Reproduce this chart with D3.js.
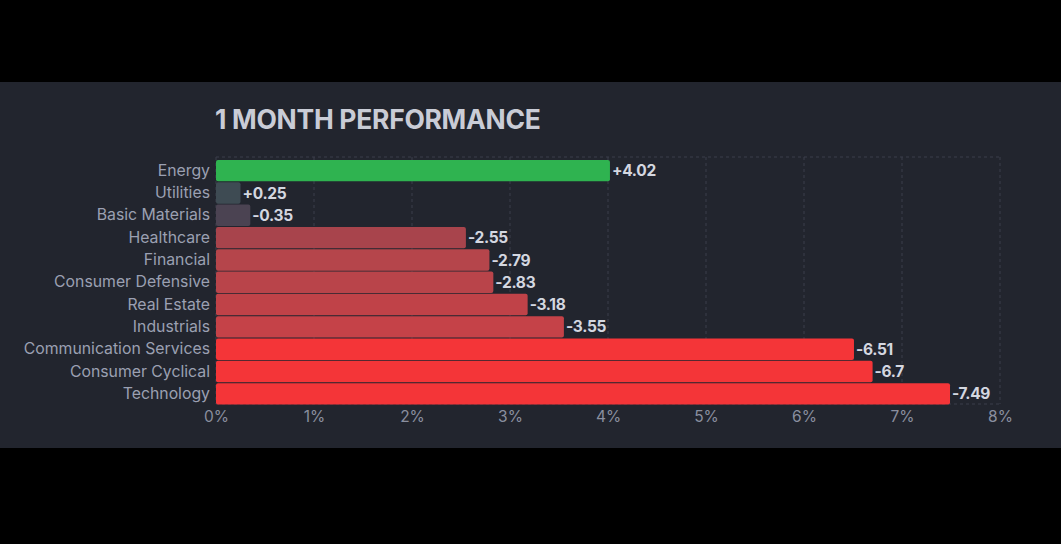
<!DOCTYPE html>
<html><head><meta charset="utf-8">
<script src="https://cdn.jsdelivr.net/npm/d3@7"></script>
<style>
html,body{margin:0;padding:0;background:#000;}
svg{display:block;}
</style></head><body>
<svg id="c" width="1061" height="544"></svg>
<script>
const categories = ["Energy","Utilities","Basic Materials","Healthcare","Financial","Consumer Defensive","Real Estate","Industrials","Communication Services","Consumer Cyclical","Technology"];
const values = [4.02, 0.25, -0.35, -2.55, -2.79, -2.83, -3.18, -3.55, -6.51, -6.7, -7.49];
const barColors = ["#2fb350","#3e4b53","#4b4352","#a8444c","#b5454b","#b9444a","#c04248","#c54248","#f43538","#f43538","#f43538"];
const tickValues = [0,1,2,3,4,5,6,7,8];
const title = "1 MONTH PERFORMANCE";

const svg = d3.select("#c");
svg.append("rect").attr("x",0).attr("y",82).attr("width",1061).attr("height",366).attr("fill","#22252e");

const x = d3.scaleLinear().domain([0,8]).range([216,1000]);
const y = d3.scaleBand().domain(categories).range([159.5,405]).paddingInner(0.04).paddingOuter(0.02);

const font = "Inter, 'Noto Sans', sans-serif";

// grid
const g = svg.append("g");
g.selectAll("line.v").data(tickValues).join("line")
  .attr("x1",d=>x(d)).attr("x2",d=>x(d)).attr("y1",157).attr("y2",404)
  .attr("stroke","#3a3e4a").attr("stroke-width",1).attr("stroke-dasharray","3,3");
g.append("line").attr("x1",216).attr("x2",1000).attr("y1",157).attr("y2",157)
  .attr("stroke","#3a3e4a").attr("stroke-dasharray","3,3");
g.append("line").attr("x1",216).attr("x2",1000).attr("y1",404).attr("y2",404)
  .attr("stroke","#3a3e4a").attr("stroke-dasharray","3,3");

// bars
const data = categories.map((c,i)=>({c, v:values[i], col:barColors[i]}));
svg.selectAll("rect.bar").data(data).join("rect")
  .attr("x",x(0)).attr("y",d=>y(d.c)).attr("width",d=>x(Math.abs(d.v))-x(0))
  .attr("height",y.bandwidth()).attr("rx",2).attr("fill",d=>d.col);

// value labels
svg.selectAll("text.val").data(data).join("text")
  .attr("x",d=>x(Math.abs(d.v))+2).attr("y",d=>y(d.c)+y.bandwidth()/2)
  .attr("dy","0.36em").attr("fill","#d4d7e0").attr("font-family",font)
  .attr("font-weight","700").attr("font-size","15.5px").attr("letter-spacing","-0.3px")
  .text(d=>(d.v>0?"+":"")+d.v);

// category labels
const yAxis = d3.axisLeft(y).tickSize(0).tickPadding(6);
const ya = svg.append("g").attr("transform","translate(216,0)").call(yAxis);
ya.select(".domain").remove();
ya.selectAll("text").attr("fill","#9ba0b2").attr("font-family",font).attr("font-size","15.8px");

// x axis
const xAxis = d3.axisBottom(x).tickValues(tickValues).tickSize(0).tickPadding(7).tickFormat(d=>d+"%");
const xa = svg.append("g").attr("transform","translate(0,404)").call(xAxis);
xa.select(".domain").remove();
xa.selectAll("text").attr("fill","#8a8f9f").attr("font-family",font).attr("font-size","15.5px");

// title
svg.append("text").attr("x",215).attr("y",129).attr("fill","#c9ccd6")
  .attr("font-family",font).attr("font-weight","700").attr("font-size","26.5px")
  .attr("letter-spacing","-0.3px").text(title);
</script>
</body></html>
